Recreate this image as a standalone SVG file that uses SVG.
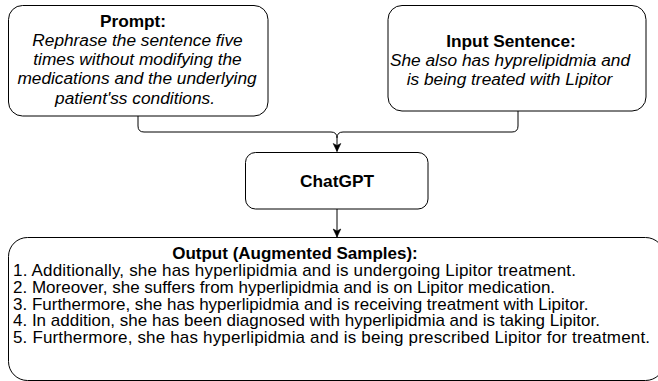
<svg xmlns="http://www.w3.org/2000/svg" width="658" height="381" viewBox="0 0 658 381">
<style>
.box{fill:#fff;stroke:#000;stroke-width:1}
.t{font-family:"Liberation Sans",Arial,Helvetica,sans-serif;font-size:17.3px;fill:#000}
.o{font-size:17px}
.b{font-weight:bold}
.i{font-style:italic}
.c{text-anchor:middle}
.conn{fill:none;stroke:#000;stroke-width:1}
</style>
<defs>
<marker id="arr" markerUnits="userSpaceOnUse" markerWidth="10" markerHeight="10" viewBox="0 0 10 10" refX="9" refY="5" orient="auto">
<path d="M1,1.2 L9,5 L1,8.8 L3,5 Z" fill="#000" stroke="#000" stroke-width="0.6"/>
</marker>
</defs>
<rect width="658" height="381" fill="#fff"/>
<g id="connectors">
<path class="conn" d="M138,116 V126 Q138,132 144,132 H331 Q337,132 337,138 V151.5" marker-end="url(#arr)"/>
<path class="conn" d="M518,111 V126 Q518,132 512,132 H343 Q337,132 337,138"/>
<path class="conn" d="M337,209 V237" marker-end="url(#arr)"/>
</g>
<g id="prompt">
<rect class="box" x="8.5" y="5.5" width="259.5" height="110.5" rx="14"/>
<text class="t b c" x="133" y="26.7">Prompt:</text>
<text class="t i c" x="137.5" y="45.9">Rephrase the sentence five</text>
<text class="t i c" x="137.5" y="65.1">times without modifying the</text>
<text class="t i c" x="137" y="84.3">medications and the underlying</text>
<text class="t i c" x="135" y="103.5">patient'ss conditions.</text>
</g>
<g id="input">
<rect class="box" x="388" y="5.5" width="258" height="105.5" rx="14"/>
<text class="t b c" x="511" y="47">Input Sentence:</text>
<text class="t i c" x="510" y="66">She also has hyprelipidmia and</text>
<text class="t i c" x="509.5" y="85">is being treated with Lipitor</text>
</g>
<g id="chatgpt">
<rect class="box" x="245.5" y="152.5" width="182.5" height="56.5" rx="10"/>
<text class="t b c" x="337" y="186.5">ChatGPT</text>
</g>
<g id="output">
<rect class="box" x="8.5" y="237.5" width="656" height="143" rx="19"/>
<text class="t o b c" x="295" y="259">Output (Augmented Samples):</text>
<text class="t o" x="13" y="276" textLength="563" lengthAdjust="spacing">1. Additionally, she has hyperlipidmia and is undergoing Lipitor treatment.</text>
<text class="t o" x="13" y="292.8">2. Moreover, she suffers from hyperlipidmia and is on Lipitor medication.</text>
<text class="t o" x="13" y="309.6">3. Furthermore, she has hyperlipidmia and is receiving treatment with Lipitor.</text>
<text class="t o" x="13" y="326.4">4. In addition, she has been diagnosed with hyperlipidmia and is taking Lipitor.</text>
<text class="t o" x="13" y="343.2" textLength="637" lengthAdjust="spacing">5. Furthermore, she has hyperlipidmia and is being prescribed Lipitor for treatment.</text>
</g>
</svg>
